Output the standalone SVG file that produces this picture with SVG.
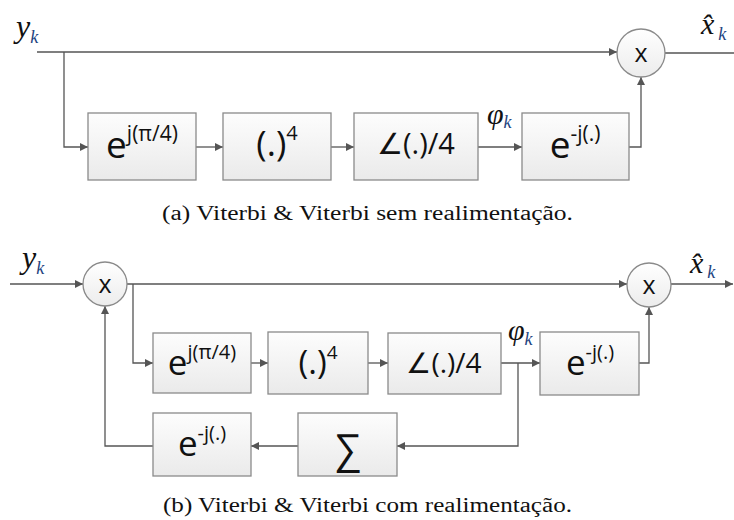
<svg xmlns="http://www.w3.org/2000/svg" width="734" height="520" viewBox="0 0 734 520">
<defs>
<linearGradient id="bg" x1="0" y1="0" x2="0" y2="1"><stop offset="0" stop-color="#fdfdfd"/><stop offset="1" stop-color="#eaeaea"/></linearGradient>
<linearGradient id="cg" x1="0" y1="0" x2="0" y2="1"><stop offset="0" stop-color="#ffffff"/><stop offset="1" stop-color="#ececec"/></linearGradient>
<marker id="ah" viewBox="0 0 10 10" refX="10" refY="5" markerWidth="8" markerHeight="8" markerUnits="userSpaceOnUse" orient="auto"><path d="M0,0 L10,5 L0,10 z" fill="#555"/></marker>
</defs>
<style>
.box{fill:url(#bg);stroke:#8a8a8a;stroke-width:1.3}
.circ{fill:url(#cg);stroke:#8a8a8a;stroke-width:1.3}
.ln{fill:none;stroke:#555;stroke-width:1.3}
.arr{marker-end:url(#ah)}
.t{font-family:"Open Sans",sans-serif;fill:#111}
.m{font-family:"Liberation Serif",serif;font-style:italic;fill:#111}
.sub{fill:#24447f}
.cap{font-family:"Liberation Serif",serif;font-size:20px;fill:#111}
</style>
<rect width="734" height="520" fill="#fff"/>
<g id="connectors">
<path class="ln arr" d="M37,52 H617"/>
<path class="ln arr" d="M64,52 V147 H88"/>
<path class="ln arr" d="M196,147 H223"/>
<path class="ln arr" d="M331,147 H354"/>
<path class="ln arr" d="M478,147 H522"/>
<path class="ln arr" d="M629,147 H641 V77"/>
<path class="ln" d="M665,53 H734"/>
<path class="ln arr" d="M10,284 H83"/>
<path class="ln arr" d="M127,284 H627"/>
<path class="ln arr" d="M133,284 V363 H153"/>
<path class="ln arr" d="M251,363 H268"/>
<path class="ln arr" d="M368,363 H388"/>
<path class="ln arr" d="M501,363 H540"/>
<path class="ln arr" d="M639,363 H649 V307"/>
<path class="ln arr" d="M518,363 V446 H397"/>
<path class="ln arr" d="M298,446 H251"/>
<path class="ln arr" d="M153,446 H105 V306"/>
<path class="ln arr" d="M671,284 H733"/>
</g>
<g id="labels">
<text class="m" x="16" y="37" font-size="32">y<tspan class="sub" font-size="18" dy="6">k</tspan></text>
<text class="m" x="701" y="34" font-size="30">x̂<tspan class="sub" font-size="18" dx="4" dy="6">k</tspan></text>
<text class="m" x="487" y="124" font-size="30">φ<tspan class="sub" font-size="18" dy="4">k</tspan></text>
<text class="m" x="22" y="268" font-size="32">y<tspan class="sub" font-size="18" dy="6">k</tspan></text>
<text class="m" x="690" y="273" font-size="30">x̂<tspan class="sub" font-size="18" dx="4" dy="5">k</tspan></text>
<text class="m" x="508" y="340" font-size="30">φ<tspan class="sub" font-size="18" dy="5">k</tspan></text>
</g>
<g id="a_exp1"><rect class="box" x="88" y="113" width="108" height="67"/><text class="t" x="142" y="158" font-size="37" text-anchor="middle">e<tspan font-size="21" dy="-17">j(π/4)</tspan></text></g>
<g id="a_pow4"><rect class="box" x="223" y="113" width="108" height="67"/><text class="t" x="277" y="156" font-size="35" text-anchor="middle">(.)<tspan font-size="20" dy="-16">4</tspan></text></g>
<g id="a_angle"><rect class="box" x="354" y="113" width="124" height="67"/><text class="t" x="416" y="154" font-size="29" text-anchor="middle">∠(.)/4</text></g>
<g id="a_exp2"><rect class="box" x="522" y="113" width="107" height="67"/><text class="t" x="575" y="158" font-size="37" text-anchor="middle">e<tspan font-size="21" dy="-17">-j(.)</tspan></text></g>
<g id="a_mult"><circle class="circ" cx="641" cy="53" r="24"/><text class="t" x="641" y="62" font-size="25" text-anchor="middle">x</text></g>
<g id="b_mult1"><circle class="circ" cx="105" cy="284" r="22"/><text class="t" x="105" y="293" font-size="25" text-anchor="middle">x</text></g>
<g id="b_mult2"><circle class="circ" cx="649" cy="285" r="22"/><text class="t" x="649" y="294" font-size="25" text-anchor="middle">x</text></g>
<g id="b_exp1"><rect class="box" x="153" y="333" width="98" height="60"/><text class="t" x="202" y="375" font-size="35" text-anchor="middle">e<tspan font-size="20" dy="-16">j(π/4)</tspan></text></g>
<g id="b_pow4"><rect class="box" x="268" y="332" width="100" height="62"/><text class="t" x="318" y="374" font-size="33" text-anchor="middle">(.)<tspan font-size="19" dy="-15">4</tspan></text></g>
<g id="b_angle"><rect class="box" x="388" y="333" width="113" height="61"/><text class="t" x="444" y="373" font-size="28" text-anchor="middle">∠(.)/4</text></g>
<g id="b_exp2"><rect class="box" x="540" y="332" width="99" height="63"/><text class="t" x="590" y="375" font-size="35" text-anchor="middle">e<tspan font-size="20" dy="-16">-j(.)</tspan></text></g>
<g id="b_sum"><rect class="box" x="298" y="413" width="99" height="63"/><text class="t" x="348" y="463" font-size="40" text-anchor="middle">∑</text></g>
<g id="b_exp3"><rect class="box" x="153" y="413" width="98" height="63"/><text class="t" x="202" y="456" font-size="35" text-anchor="middle">e<tspan font-size="20" dy="-16">-j(.)</tspan></text></g>
<g id="captions">
<text class="cap" x="162" y="220" textLength="411" lengthAdjust="spacingAndGlyphs">(a) Viterbi &amp; Viterbi sem realimentação.</text>
<text class="cap" x="163" y="512" textLength="409" lengthAdjust="spacingAndGlyphs">(b) Viterbi &amp; Viterbi com realimentação.</text>
</g>
</svg>
